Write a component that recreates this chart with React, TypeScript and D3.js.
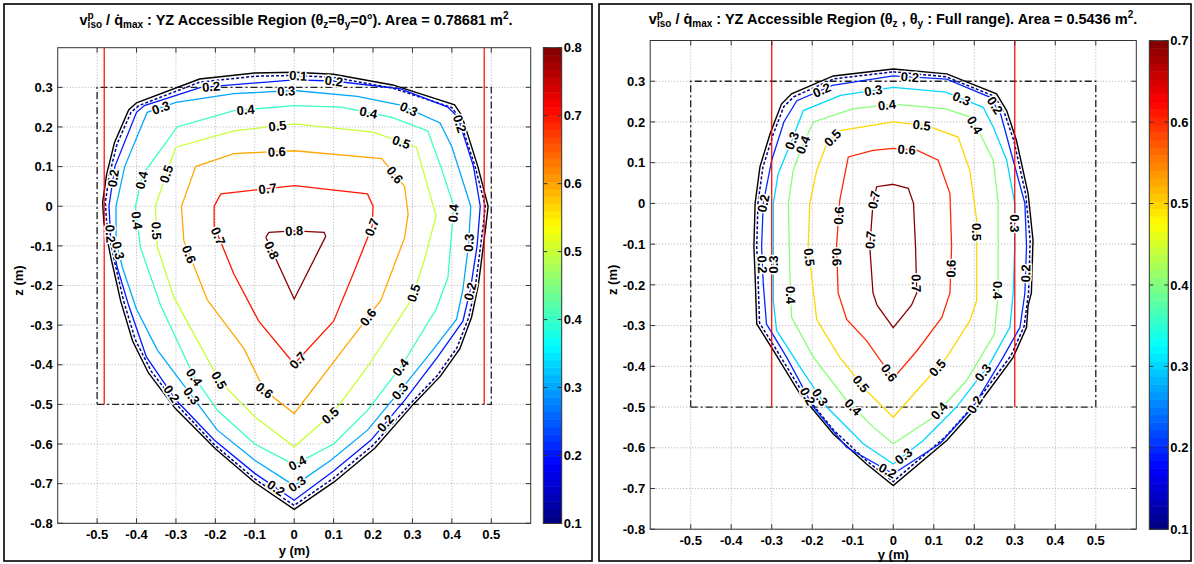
import React from "react";
import * as d3 from "d3";

type Pt = [number, number];
type Label = [number, number, number];

// ---------- shared axis data ----------
const xTicks = [-0.5, -0.4, -0.3, -0.2, -0.1, 0, 0.1, 0.2, 0.3, 0.4, 0.5];
const yTicks = [-0.8, -0.7, -0.6, -0.5, -0.4, -0.3, -0.2, -0.1, 0, 0.1, 0.2, 0.3];
const xDomain: Pt = [-0.6, 0.6];
const yDomain: Pt = [-0.8, 0.4];
const regionBox: Pt[] = [[-0.5, -0.5], [0.5, -0.5], [0.5, 0.3], [-0.5, 0.3], [-0.5, -0.5]];
const redLineBottom = -0.5;

// ---------- left panel data ----------
const leftCLim: Pt = [0.1, 0.8];
const leftColorTicks = [0.1, 0.2, 0.3, 0.4, 0.5, 0.6, 0.7, 0.8];
const leftRedLines = [-0.482, 0.482];

const leftBoundary: Pt[] = [[0,0.338],[0.1,0.333],[0.25,0.306],[0.407,0.256],[0.425,0.229],[0.466,0.1],[0.492,0],[0.485,-0.06],[0.467,-0.2],[0.45,-0.28],[0.42,-0.36],[0.37,-0.43],[0.302,-0.5],[0.205,-0.61],[0.102,-0.695],[0,-0.765],[-0.1,-0.697],[-0.2,-0.612],[-0.302,-0.51],[-0.37,-0.42],[-0.41,-0.34],[-0.44,-0.24],[-0.465,-0.13],[-0.483,-0.04],[-0.486,0.01],[-0.476,0.08],[-0.456,0.16],[-0.42,0.243],[-0.4,0.261],[-0.24,0.321],[-0.1,0.336],[0,0.338]];
const leftC01: Pt[] = [[0,0.33],[0.1,0.325],[0.25,0.298],[0.4,0.249],[0.418,0.224],[0.459,0.1],[0.485,0],[0.478,-0.06],[0.46,-0.2],[0.443,-0.28],[0.413,-0.357],[0.363,-0.427],[0.296,-0.497],[0.2,-0.603],[0.1,-0.686],[0,-0.755],[-0.1,-0.688],[-0.2,-0.604],[-0.296,-0.503],[-0.363,-0.416],[-0.403,-0.337],[-0.433,-0.238],[-0.458,-0.13],[-0.476,-0.04],[-0.479,0.01],[-0.469,0.08],[-0.449,0.158],[-0.414,0.237],[-0.394,0.254],[-0.24,0.313],[-0.1,0.328],[0,0.33]];
const leftC02: Pt[] = [[0,0.319],[0.1,0.316],[0.27,0.296],[0.39,0.25],[0.415,0.225],[0.455,0.1],[0.472,0],[0.464,-0.1],[0.447,-0.21],[0.428,-0.29],[0.364,-0.38],[0.28,-0.49],[0.195,-0.59],[0.1,-0.668],[0,-0.742],[-0.1,-0.674],[-0.203,-0.59],[-0.3,-0.489],[-0.375,-0.38],[-0.42,-0.25],[-0.449,-0.154],[-0.466,-0.07],[-0.47,0],[-0.455,0.1],[-0.4,0.237],[-0.38,0.254],[-0.237,0.3],[0,0.319]];
const leftC03: Pt[] = [[0,0.292],[0.16,0.277],[0.27,0.255],[0.37,0.21],[0.4,0.15],[0.448,0],[0.442,-0.1],[0.428,-0.21],[0.412,-0.285],[0.35,-0.365],[0.27,-0.464],[0.186,-0.565],[0.093,-0.641],[0,-0.705],[-0.1,-0.641],[-0.195,-0.565],[-0.271,-0.464],[-0.347,-0.363],[-0.4,-0.26],[-0.436,-0.154],[-0.452,-0.087],[-0.452,0],[-0.43,0.1],[-0.373,0.237],[-0.3,0.262],[-0.153,0.284],[0,0.292]];
const leftC04: Pt[] = [[0,0.254],[0.12,0.25],[0.246,0.225],[0.339,0.19],[0.372,0.1],[0.405,0],[0.39,-0.18],[0.36,-0.26],[0.271,-0.405],[0.186,-0.515],[0.1,-0.6],[0,-0.652],[-0.1,-0.6],[-0.195,-0.515],[-0.254,-0.43],[-0.339,-0.25],[-0.39,-0.104],[-0.403,0],[-0.384,0.08],[-0.297,0.2],[-0.153,0.241],[0,0.254]];
const leftC05: Pt[] = [[0,0.208],[0.2,0.187],[0.31,0.149],[0.36,-0.024],[0.33,-0.137],[0.297,-0.237],[0.186,-0.405],[0.1,-0.52],[0,-0.607],[-0.1,-0.531],[-0.19,-0.44],[-0.305,-0.23],[-0.347,-0.104],[-0.352,0],[-0.322,0.09],[-0.3,0.149],[-0.153,0.19],[0,0.208]];
const leftC06: Pt[] = [[0,0.14],[0.222,0.12],[0.28,0.05],[0.289,-0.02],[0.28,-0.08],[0.22,-0.237],[0.11,-0.38],[0,-0.523],[-0.076,-0.464],[-0.127,-0.36],[-0.22,-0.237],[-0.28,-0.087],[-0.286,0],[-0.25,0.1],[-0.153,0.133],[0,0.14]];
const leftC07: Pt[] = [[0,0.052],[0.186,0.031],[0.2,0],[0.198,-0.05],[0.15,-0.17],[0.1,-0.29],[0,-0.398],[-0.09,-0.29],[-0.153,-0.171],[-0.203,-0.05],[-0.203,0],[-0.186,0.031],[0,0.052]];
const leftC08: Pt[] = [[-0.072,-0.078],[-0.064,-0.066],[0,-0.062],[0.076,-0.066],[0.08,-0.076],[0,-0.234],[-0.072,-0.078]];

const leftLabels: Label[] = [
  [0.1, 0.01, 0.329], [0.2, -0.21, 0.29], [0.3, -0.02, 0.29], [0.2, 0.1, 0.31],
  [0.3, -0.33, 0.225], [0.4, -0.123, 0.24], [0.5, -0.042, 0.2], [0.6, -0.044, 0.135],
  [0.7, -0.068, 0.048], [0.8, 0, -0.062], [0.8, -0.07, -0.117], [0.7, -0.204, -0.08],
  [0.6, -0.276, -0.125], [0.5, -0.35, -0.062], [0.5, -0.327, 0.082], [0.4, -0.385, 0.065],
  [0.2, -0.455, 0.07], [0.2, -0.472, -0.07], [0.3, -0.44, -0.11], [0.4, -0.4, -0.036],
  [0.2, 0.403, 0.203], [0.3, 0.291, 0.246], [0.4, 0.187, 0.229], [0.5, 0.271, 0.16],
  [0.6, 0.253, 0.077], [0.7, 0.2, -0.054], [0.4, 0.395, -0.017], [0.3, 0.44, -0.092],
  [0.2, 0.437, -0.213], [0.5, 0.309, -0.221], [0.6, 0.187, -0.28], [0.7, 0.01, -0.39],
  [0.4, 0.27, -0.407], [0.3, 0.27, -0.468], [0.5, 0.093, -0.53], [0.2, 0.232, -0.548],
  [0.4, 0.008, -0.648], [0.3, 0.008, -0.702], [0.4, -0.255, -0.432], [0.5, -0.192, -0.44],
  [0.6, -0.077, -0.466], [0.2, -0.314, -0.475], [0.3, -0.263, -0.48], [0.2, -0.052, -0.72],
];

// ---------- right panel data ----------
const rightCLim: Pt = [0.1, 0.7];
const rightColorTicks = [0.1, 0.2, 0.3, 0.4, 0.5, 0.6, 0.7];
const rightRedLines = [-0.3, 0.3];

const rightBoundary: Pt[] = [[0,0.33],[0.132,0.318],[0.255,0.269],[0.28,0.228],[0.304,0.155],[0.333,0.024],[0.345,-0.09],[0.341,-0.22],[0.333,-0.25],[0.329,-0.304],[0.296,-0.378],[0.206,-0.5],[0.132,-0.582],[0,-0.693],[-0.066,-0.64],[-0.148,-0.566],[-0.23,-0.468],[-0.296,-0.361],[-0.337,-0.296],[-0.341,-0.179],[-0.344,-0.106],[-0.341,0],[-0.329,0.09],[-0.304,0.171],[-0.276,0.244],[-0.251,0.269],[-0.148,0.313],[0,0.33]];
const rightC01: Pt[] = [[0,0.323],[0.13,0.311],[0.25,0.263],[0.274,0.224],[0.298,0.153],[0.327,0.022],[0.338,-0.09],[0.334,-0.22],[0.323,-0.302],[0.29,-0.375],[0.2,-0.494],[0.128,-0.574],[0,-0.683],[-0.066,-0.632],[-0.146,-0.558],[-0.226,-0.461],[-0.29,-0.357],[-0.33,-0.294],[-0.334,-0.179],[-0.337,-0.106],[-0.334,0],[-0.322,0.088],[-0.297,0.168],[-0.27,0.238],[-0.245,0.262],[-0.146,0.306],[0,0.323]];
const rightC02: Pt[] = [[0,0.313],[0.132,0.305],[0.238,0.261],[0.265,0.22],[0.296,0.106],[0.325,0],[0.329,-0.106],[0.325,-0.22],[0.313,-0.304],[0.271,-0.378],[0.197,-0.5],[0.115,-0.59],[0,-0.664],[-0.115,-0.599],[-0.197,-0.5],[-0.263,-0.378],[-0.313,-0.296],[-0.321,-0.195],[-0.325,-0.106],[-0.321,0],[-0.3,0.106],[-0.27,0.2],[-0.238,0.252],[-0.15,0.29],[0,0.313]];
const rightC03: Pt[] = [[0,0.285],[0.13,0.273],[0.222,0.236],[0.247,0.187],[0.28,0.106],[0.3,0],[0.3,-0.106],[0.296,-0.22],[0.288,-0.304],[0.238,-0.394],[0.156,-0.5],[0.074,-0.582],[0,-0.64],[-0.074,-0.59],[-0.164,-0.5],[-0.23,-0.402],[-0.288,-0.312],[-0.296,-0.239],[-0.296,-0.106],[-0.296,0],[-0.284,0.073],[-0.247,0.163],[-0.222,0.228],[-0.13,0.265],[0,0.285]];
const rightC04: Pt[] = [[0,0.244],[0.13,0.232],[0.19,0.212],[0.214,0.171],[0.247,0.106],[0.259,0],[0.259,-0.22],[0.25,-0.32],[0.181,-0.435],[0.099,-0.525],[0,-0.59],[-0.049,-0.55],[-0.115,-0.484],[-0.197,-0.378],[-0.251,-0.28],[-0.255,-0.179],[-0.259,0],[-0.247,0.081],[-0.222,0.147],[-0.197,0.2],[-0.1,0.232],[0,0.244]];
const rightC05: Pt[] = [[0,0.2],[0.082,0.191],[0.16,0.163],[0.189,0.081],[0.206,-0.04],[0.206,-0.239],[0.189,-0.288],[0.132,-0.378],[0.058,-0.46],[0,-0.525],[-0.066,-0.46],[-0.132,-0.378],[-0.189,-0.285],[-0.21,-0.106],[-0.206,0],[-0.189,0.081],[-0.164,0.147],[-0.132,0.179],[0,0.2]];
const rightC06: Pt[] = [[0,0.135],[0.058,0.131],[0.111,0.106],[0.14,0.024],[0.144,-0.106],[0.14,-0.22],[0.12,-0.28],[0.06,-0.36],[0,-0.43],[-0.066,-0.337],[-0.115,-0.285],[-0.136,-0.22],[-0.14,-0.106],[-0.132,0.008],[-0.111,0.114],[-0.05,0.13],[0,0.135]];
const rightC07: Pt[] = [[0,0.047],[0.037,0.037],[0.05,0],[0.055,-0.106],[0.058,-0.22],[0.045,-0.25],[0,-0.305],[-0.04,-0.25],[-0.05,-0.22],[-0.058,-0.106],[-0.05,0],[-0.041,0.041],[0,0.047]];

const rightLabels: Label[] = [
  [0.2, -0.173, 0.27], [0.3, -0.05, 0.28], [0.4, -0.016, 0.243], [0.3, -0.25, 0.154],
  [0.4, -0.218, 0.142], [0.5, -0.148, 0.159], [0.2, -0.32, 0], [0.2, -0.325, -0.15],
  [0.3, -0.296, -0.15], [0.5, -0.208, -0.132], [0.6, -0.14, -0.132], [0.6, -0.134, -0.03],
  [0.7, -0.045, 0.008], [0.7, -0.055, -0.09], [0.4, -0.257, -0.225], [0.2, 0.041, 0.309],
  [0.3, 0.169, 0.258], [0.2, 0.25, 0.24], [0.4, 0.197, 0.19], [0.5, 0.07, 0.19],
  [0.6, 0.033, 0.13], [0.3, 0.3, -0.049], [0.5, 0.206, -0.07], [0.2, 0.329, -0.172],
  [0.6, 0.144, -0.16], [0.4, 0.259, -0.213], [0.7, 0.058, -0.196], [0.5, -0.09, -0.451],
  [0.6, -0.016, -0.42], [0.3, -0.181, -0.476], [0.2, -0.214, -0.475], [0.4, -0.099, -0.5],
  [0.2, -0.016, -0.66], [0.5, 0.115, -0.409], [0.3, 0.219, -0.414], [0.4, 0.103, -0.5],
  [0.2, 0.194, -0.49], [0.3, 0.025, -0.62],
];

// ---------- helpers ----------
function jet(t: number): string {
  const c = (v: number) => Math.max(0, Math.min(1, v));
  const r = c(Math.min(4 * t - 1.5, -4 * t + 4.5));
  const g = c(Math.min(4 * t - 0.5, -4 * t + 3.5));
  const b = c(Math.min(4 * t + 0.5, -4 * t + 2.5));
  return d3.rgb(r * 255, g * 255, b * 255).formatHex();
}
const NC = 64;
function levelColor(level: number, clim: Pt) {
  let idx = Math.floor(((level - clim[0]) / (clim[1] - clim[0])) * NC);
  idx = Math.max(0, Math.min(NC - 1, idx));
  return jet((idx + 0.5) / NC);
}

type Contour = { level: number | null; pts: Pt[] };

type PanelCfg = {
  frame: [number, number, number, number];
  plot: { l: number; r: number; t: number; b: number };
  cb: { l: number; r: number; t: number; b: number };
  clim: Pt;
  cticks: number[];
  contours: Contour[];
  labels: Label[];
  red: number[];
  title: React.ReactNode;
  xLabelY: number;
  zLabelX: number;
};

const FONT = "'Liberation Sans', Arial, Helvetica, sans-serif";
const TICK_FS = 13;
const LABEL_FS = 13;

function Panel({ cfg }: { cfg: PanelCfg }) {
  const { plot, cb, clim } = cfg;
  const sx = d3.scaleLinear().domain(xDomain).range([plot.l, plot.r]);
  const sy = d3.scaleLinear().domain(yDomain).range([plot.b, plot.t]);
  const sc = d3.scaleLinear().domain(clim).range([cb.b, cb.t]);
  const line = d3.line<Pt>().x((d) => sx(d[0])).y((d) => sy(d[1]));
  const axisColor = "#333";

  const labelPlacements = cfg.labels.map(([lev, y, z], i) => {
    const c = cfg.contours.find((k) => k.level !== null && Math.abs((k.level as number) - lev) < 1e-6);
    const px = sx(y), py = sy(z);
    let best = { d: Infinity, x: px, y: py, a: 0 };
    if (c) {
      for (let j = 0; j < c.pts.length - 1; j++) {
        const ax = sx(c.pts[j][0]), ay = sy(c.pts[j][1]);
        const bx = sx(c.pts[j + 1][0]), by = sy(c.pts[j + 1][1]);
        const dx = bx - ax, dy = by - ay;
        const L2 = dx * dx + dy * dy || 1;
        let t = ((px - ax) * dx + (py - ay) * dy) / L2;
        t = Math.max(0, Math.min(1, t));
        const qx = ax + t * dx, qy = ay + t * dy;
        const d = Math.hypot(px - qx, py - qy);
        if (d < best.d) {
          let a = (Math.atan2(dy, dx) * 180) / Math.PI;
          if (a > 90) a -= 180;
          if (a < -90) a += 180;
          best = { d, x: qx, y: qy, a };
        }
      }
    }
    return { key: i, text: String(lev), ...best };
  });

  return (
    <g>
      <rect x={cfg.frame[0]} y={cfg.frame[1]} width={cfg.frame[2]} height={cfg.frame[3]} fill="white" stroke="#000" strokeWidth={1.6} />
      {xTicks.map((t) => (
        <line key={"gx" + t} x1={sx(t)} x2={sx(t)} y1={plot.t} y2={plot.b} stroke="#9a9a9a" strokeWidth={0.8} strokeDasharray="1,2" />
      ))}
      {yTicks.map((t) => (
        <line key={"gy" + t} x1={plot.l} x2={plot.r} y1={sy(t)} y2={sy(t)} stroke="#9a9a9a" strokeWidth={0.8} strokeDasharray="1,2" />
      ))}
      <path d={line(regionBox) || ""} fill="none" stroke="#222" strokeWidth={1.3} strokeDasharray="7,3,2,3" />
      {cfg.contours.map((c, i) => {
        if (c.level === null)
          return <path key={"c" + i} d={line(c.pts) || ""} fill="none" stroke="#000" strokeWidth={1.4} />;
        const col = levelColor(c.level, clim);
        const dashed = Math.abs(c.level - clim[0]) < 1e-6;
        return (
          <path key={"c" + i} d={line(c.pts) || ""} fill="none" stroke={col} strokeWidth={dashed ? 1.5 : 1.3}
            strokeDasharray={dashed ? "3,2" : undefined} />
        );
      })}
      {cfg.red.map((r) => (
        <line key={"r" + r} x1={sx(r)} x2={sx(r)} y1={sy(redLineBottom)} y2={plot.t} stroke="#ff0000" strokeWidth={1.2} />
      ))}
      {labelPlacements.map((l) => (
        <text key={"l" + l.key} transform={`translate(${l.x},${l.y}) rotate(${l.a})`} textAnchor="middle" dy="0.36em"
          fontSize={LABEL_FS} fontWeight="bold" fill="#000" stroke="#fff" strokeWidth={3} paintOrder="stroke" fontFamily={FONT}>
          {l.text}
        </text>
      ))}
      <rect x={plot.l} y={plot.t} width={plot.r - plot.l} height={plot.b - plot.t} fill="none" stroke={axisColor} strokeWidth={1} />
      {xTicks.map((t) => (
        <g key={"tx" + t}>
          <line x1={sx(t)} x2={sx(t)} y1={plot.b} y2={plot.b - 5} stroke={axisColor} />
          <line x1={sx(t)} x2={sx(t)} y1={plot.t} y2={plot.t + 5} stroke={axisColor} />
          <text x={sx(t)} y={plot.b + 15.5} textAnchor="middle" fontSize={TICK_FS} fontWeight="bold" fontFamily={FONT}>{String(t)}</text>
        </g>
      ))}
      {yTicks.map((t) => (
        <g key={"ty" + t}>
          <line x1={plot.l} x2={plot.l + 5} y1={sy(t)} y2={sy(t)} stroke={axisColor} />
          <line x1={plot.r} x2={plot.r - 5} y1={sy(t)} y2={sy(t)} stroke={axisColor} />
          <text x={plot.l - 5} y={sy(t)} dy="0.36em" textAnchor="end" fontSize={TICK_FS} fontWeight="bold" fontFamily={FONT}>{String(t)}</text>
        </g>
      ))}
      <text x={(plot.l + plot.r) / 2} y={cfg.xLabelY} textAnchor="middle" fontSize={TICK_FS} fontWeight="bold" fontFamily={FONT}>y (m)</text>
      <text transform={`translate(${cfg.zLabelX},${(plot.t + plot.b) / 2 - 5}) rotate(-90)`} textAnchor="middle" fontSize={TICK_FS} fontWeight="bold" fontFamily={FONT}>z (m)</text>
      {d3.range(NC).map((i) => {
        const v0 = clim[0] + (i / NC) * (clim[1] - clim[0]);
        const v1 = clim[0] + ((i + 1) / NC) * (clim[1] - clim[0]);
        return <rect key={"cb" + i} x={cb.l} width={cb.r - cb.l} y={sc(v1)} height={sc(v0) - sc(v1) + 0.5} fill={jet((i + 0.5) / NC)} />;
      })}
      <rect x={cb.l} y={cb.t} width={cb.r - cb.l} height={cb.b - cb.t} fill="none" stroke={axisColor} strokeWidth={1} />
      {cfg.cticks.map((t) => (
        <g key={"ct" + t}>
          <line x1={cb.l} x2={cb.l + 4} y1={sc(t)} y2={sc(t)} stroke={axisColor} />
          <line x1={cb.r} x2={cb.r - 4} y1={sc(t)} y2={sc(t)} stroke={axisColor} />
          <text x={cb.r + 2} y={sc(t)} dy="0.36em" fontSize={TICK_FS} fontWeight="bold" fontFamily={FONT}>{String(t)}</text>
        </g>
      ))}
      {cfg.title}
    </g>
  );
}

function Title({ x, y, parts }: { x: number; y: number; parts: React.ReactNode }) {
  return (
    <text x={x} y={y} textAnchor="middle" fontSize={14.5} fontWeight="bold" fontFamily={FONT}>
      {parts}
    </text>
  );
}

const leftTitle = (
  <Title x={296} y={25} parts={<>
    {"v"}<tspan dy={-6} fontSize={10}>p</tspan><tspan dx={-6} dy={9} fontSize={10}>iso</tspan>
    <tspan dy={-3}>{" / q\u0307"}</tspan><tspan dy={3} fontSize={10}>max</tspan>
    <tspan dy={-3}>{" : YZ Accessible Region (\u03b8"}</tspan><tspan dy={3} fontSize={10}>z</tspan>
    <tspan dy={-3}>{"=\u03b8"}</tspan><tspan dy={3} fontSize={10}>y</tspan>
    <tspan dy={-3}>{"=0\u00b0). Area = 0.78681 m"}</tspan><tspan dy={-6} fontSize={10}>2</tspan>
    <tspan dy={6}>.</tspan>
  </>} />
);

const rightTitle = (
  <Title x={893} y={24} parts={<>
    {"v"}<tspan dy={-6} fontSize={10}>p</tspan><tspan dx={-6} dy={9} fontSize={10}>iso</tspan>
    <tspan dy={-3}>{" / q\u0307"}</tspan><tspan dy={3} fontSize={10}>max</tspan>
    <tspan dy={-3}>{" : YZ Accessible Region (\u03b8"}</tspan><tspan dy={3} fontSize={10}>z</tspan>
    <tspan dy={-3}>{" , \u03b8"}</tspan><tspan dy={3} fontSize={10}>y</tspan>
    <tspan dy={-3}>{" : Full range). Area = 0.5436 m"}</tspan><tspan dy={-6} fontSize={10}>2</tspan>
    <tspan dy={6}>.</tspan>
  </>} />
);

const leftCfg: PanelCfg = {
  frame: [4, 4, 588, 557],
  plot: { l: 57.7, r: 530.7, t: 47.7, b: 523.3 },
  cb: { l: 543.3, r: 561.7, t: 47.7, b: 523.5 },
  clim: leftCLim,
  cticks: leftColorTicks,
  contours: [
    { level: null, pts: leftBoundary },
    { level: 0.1, pts: leftC01 },
    { level: 0.2, pts: leftC02 },
    { level: 0.3, pts: leftC03 },
    { level: 0.4, pts: leftC04 },
    { level: 0.5, pts: leftC05 },
    { level: 0.6, pts: leftC06 },
    { level: 0.7, pts: leftC07 },
    { level: 0.8, pts: leftC08 },
  ],
  labels: leftLabels,
  red: leftRedLines,
  title: leftTitle,
  xLabelY: 555,
  zLabelX: 23,
};

const rightCfg: PanelCfg = {
  frame: [599, 4, 592, 557],
  plot: { l: 650.2, r: 1136.3, t: 40.5, b: 529.2 },
  cb: { l: 1149.3, r: 1168.3, t: 40.7, b: 529.2 },
  clim: rightCLim,
  cticks: rightColorTicks,
  contours: [
    { level: null, pts: rightBoundary },
    { level: 0.1, pts: rightC01 },
    { level: 0.2, pts: rightC02 },
    { level: 0.3, pts: rightC03 },
    { level: 0.4, pts: rightC04 },
    { level: 0.5, pts: rightC05 },
    { level: 0.6, pts: rightC06 },
    { level: 0.7, pts: rightC07 },
  ],
  labels: rightLabels,
  red: rightRedLines,
  title: rightTitle,
  xLabelY: 559,
  zLabelX: 617,
};

export default function App() {
  return (
    <svg width={1194} height={564} style={{ position: "absolute", left: 0, top: 0, background: "#fff" }} fontFamily={FONT}>
      <rect x={0} y={0} width={1194} height={564} fill="#fff" />
      <Panel cfg={leftCfg} />
      <Panel cfg={rightCfg} />
    </svg>
  );
}
